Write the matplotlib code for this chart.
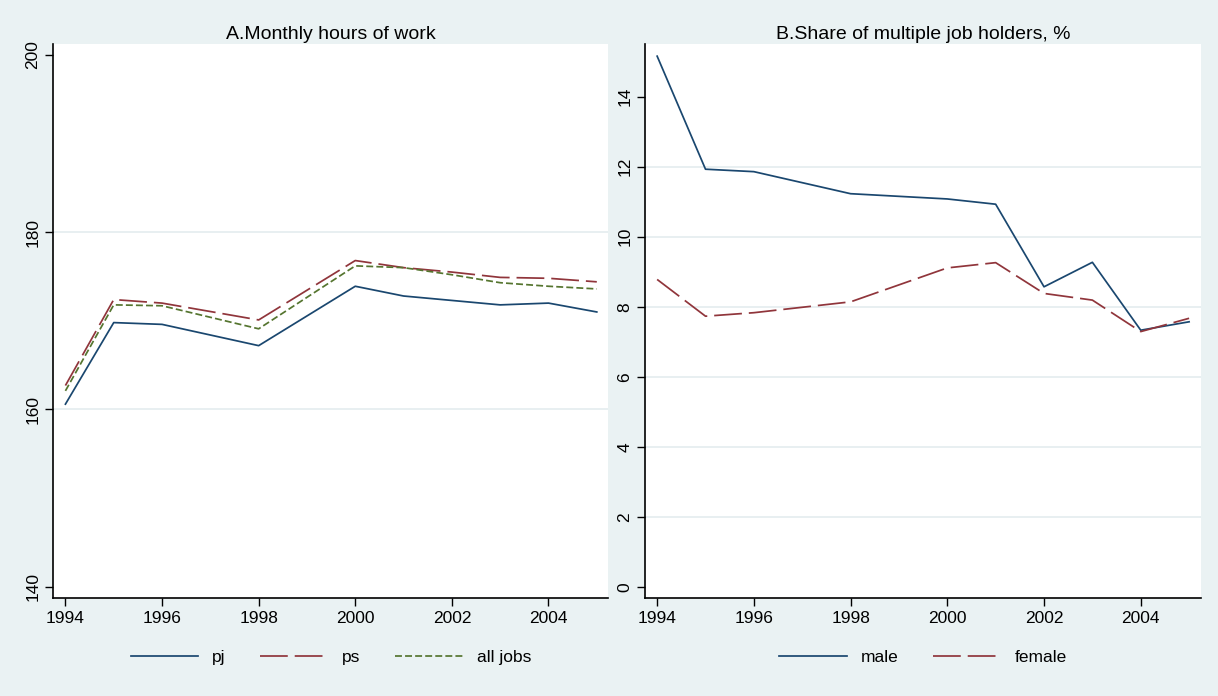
import matplotlib
matplotlib.use("Agg")
import matplotlib.pyplot as plt

plt.rcParams['font.family'] = ['Liberation Sans', 'DejaVu Sans']

years = [1994, 1995, 1996, 1998, 2000, 2001, 2002, 2003, 2004, 2005]

# panel A: monthly hours of work
pj = [160.6, 169.8, 169.6, 167.2, 173.9, 172.8, 172.3, 171.8, 172.0, 171.0]
ps = [162.7, 172.4, 172.0, 170.1, 176.8, 176.0, 175.5, 174.9, 174.8, 174.4]
all_jobs = [162.1, 171.8, 171.7, 169.1, 176.2, 176.0, 175.2, 174.3, 173.9, 173.6]

# panel B: share of multiple job holders, %
male = [15.16, 11.93, 11.86, 11.23, 11.08, 10.93, 8.57, 9.27, 7.33, 7.57]
female = [8.78, 7.73, 7.83, 8.14, 9.11, 9.26, 8.38, 8.19, 7.29, 7.67]

xticks = [1994, 1996, 1998, 2000, 2002, 2004]
yticks_a = [140, 160, 180, 200]
yticks_b = [0, 2, 4, 6, 8, 10, 12, 14]

bg = '#EAF2F3'
grid_c = '#E4ECEF'
navy = '#1A476F'
maroon = '#90353B'
green = '#55752F'
lw = 1.25
long_dash = (16, 4)
short_dash = (4, 1.8)

fig = plt.figure(figsize=(12.18, 6.96), dpi=100, facecolor=bg)
axA = fig.add_axes([0.0438, 0.1404, 0.4557, 0.796])
axB = fig.add_axes([0.5296, 0.1404, 0.4562, 0.796])


def style(ax, yticks, ylim, title):
    ax.set_facecolor('white')
    ax.set_xlim(1993.75, 2005.24)
    ax.set_ylim(*ylim)
    ax.set_xticks(xticks)
    ax.set_yticks(yticks)
    for v in yticks[1:-1]:
        ax.axhline(v, color=grid_c, lw=1.2, zorder=0)
    for s in ['top', 'right']:
        ax.spines[s].set_visible(False)
    for s in ['left', 'bottom']:
        ax.spines[s].set_linewidth(1.2)
        ax.spines[s].set_color('black')
    ax.tick_params(axis='both', length=5.8, width=1, labelsize=12.5, pad=3.5)
    plt.setp(ax.get_yticklabels(), rotation=90, va='center')
    ax.set_title(title, fontsize=14, pad=4)


def legend(ax, ncol):
    ax.legend(loc='center', bbox_to_anchor=(0.5, -0.106), ncol=ncol, frameon=False,
              fontsize=12.5, handlelength=3.9, handletextpad=0.8, columnspacing=2.0)


style(axA, yticks_a, (138.7, 201.2), 'A.Monthly hours of work')
axA.plot(years, pj, color=navy, lw=lw, label='pj')
axA.plot(years, ps, color=maroon, lw=lw, dashes=long_dash, label='ps')
axA.plot(years, all_jobs, color=green, lw=lw, dashes=short_dash, label='all jobs')
legend(axA, 3)

style(axB, yticks_b, (-0.33, 15.5), 'B.Share of multiple job holders, %')
axB.plot(years, male, color=navy, lw=lw, label='male')
axB.plot(years, female, color=maroon, lw=lw, dashes=long_dash, label='female')
legend(axB, 2)

fig.savefig('out.png', dpi=100, facecolor=bg)
